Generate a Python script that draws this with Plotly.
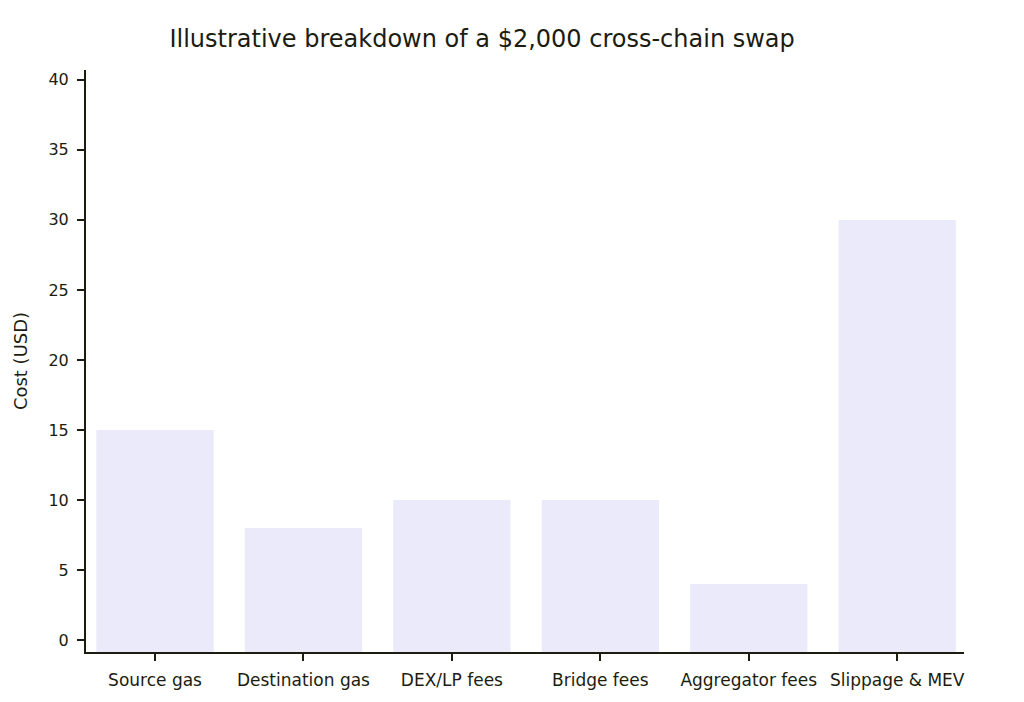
import plotly.graph_objects as go

categories = ["Source gas", "Destination gas", "DEX/LP fees", "Bridge fees",
              "Aggregator fees", "Slippage & MEV"]
costs = [15, 8, 10, 10, 4, 30]
y_ticks = [0, 5, 10, 15, 20, 25, 30, 35, 40]

y_min = -0.85  # bars run down to the axis line
bar_color = "#EAEAFB"
ink = "#1c1c10"
font_family = "DejaVu Sans"

fig = go.Figure()
fig.add_trace(go.Bar(
    x=categories,
    y=[c - y_min for c in costs],
    base=y_min,
    marker=dict(color=bar_color, line=dict(width=0)),
    width=0.79,
    hoverinfo="skip",
))

# page body adds 8px, so margins are shifted by that amount
fig.update_layout(
    width=1024, height=702,
    margin=dict(l=75, r=68, t=62, b=58),
    paper_bgcolor="white", plot_bgcolor="white",
    showlegend=False,
    font=dict(family=font_family, color=ink, size=16),
    title=dict(text="Illustrative breakdown of a $2,000 cross-chain swap",
               x=0.463, xanchor="center", y=0.957, yanchor="middle",
               font=dict(size=24, color=ink)),
)
fig.update_xaxes(
    range=[-0.465, 5.45],
    showline=True, linecolor=ink, linewidth=2,
    ticks="outside", ticklen=7, tickwidth=2, tickcolor=ink,
    showgrid=False, zeroline=False,
    tickfont=dict(size=17),
    ticklabelstandoff=5,
)
fig.update_yaxes(
    range=[y_min, 40.7],
    tickvals=y_ticks,
    showline=True, linecolor=ink, linewidth=2,
    ticks="outside", ticklen=7, tickwidth=2, tickcolor=ink,
    showgrid=False, zeroline=False,
    tickfont=dict(size=16),
    ticklabelstandoff=5,
    title=dict(text="Cost (USD)", font=dict(size=18), standoff=16),
)

fig.write_html("out.html")
